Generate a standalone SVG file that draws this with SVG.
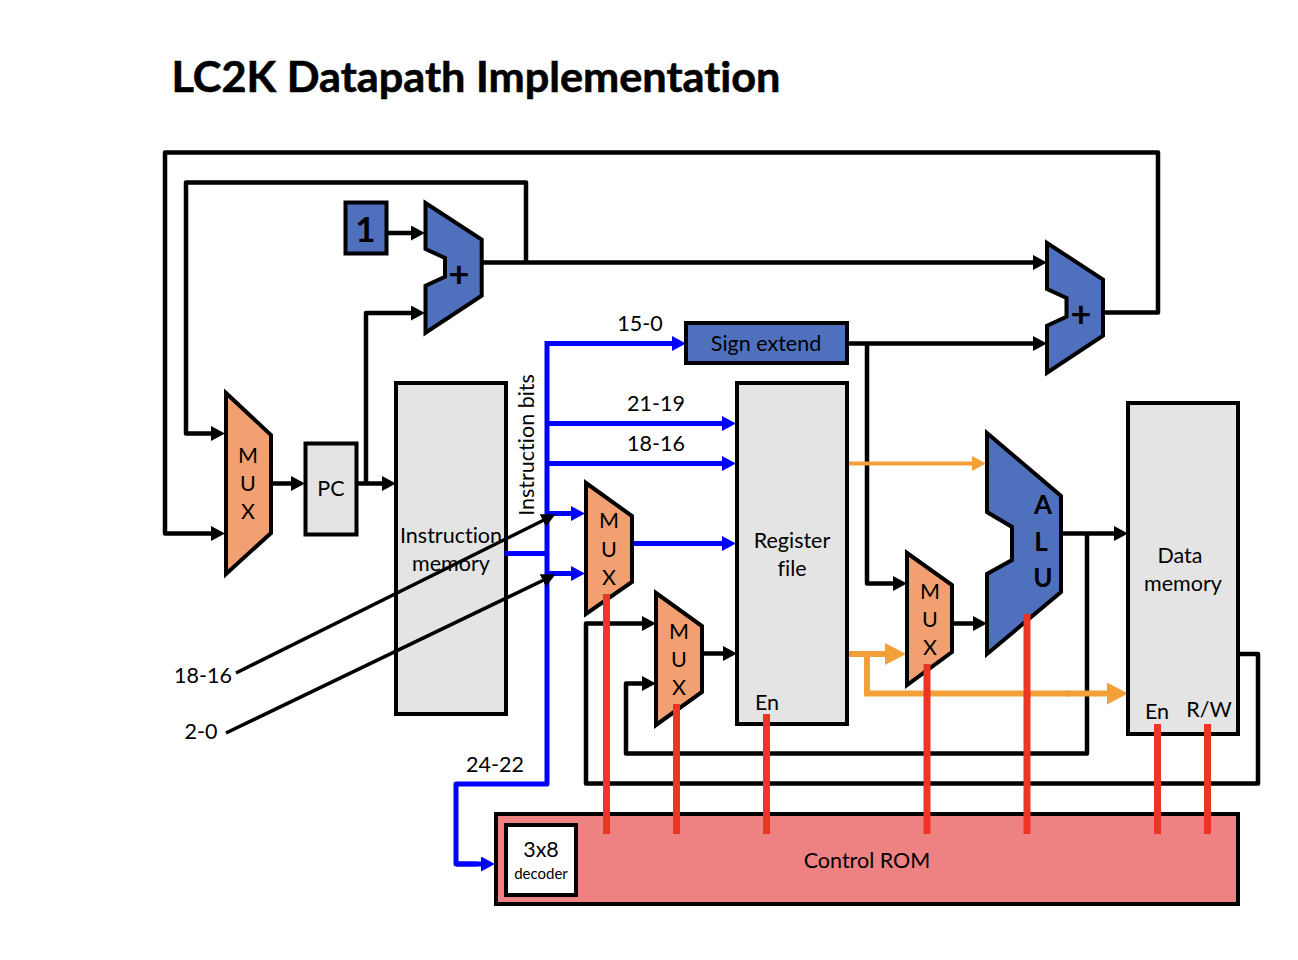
<svg xmlns="http://www.w3.org/2000/svg" width="1298" height="960" viewBox="0 0 1298 960">
<style>
text{font-family:Lato,"Open Sans","Liberation Sans",sans-serif;fill:#000;text-anchor:middle;font-size:21.500px;font-variant-ligatures:none}
.b{font-weight:700}
.gray{fill:#e4e4e4;stroke:#000;stroke-width:4}
.blue{fill:#4f71bd;stroke:#000;stroke-width:4;stroke-linejoin:miter}
.or{fill:#f2a071;stroke:#000;stroke-width:4}
.ka{fill:none;stroke:#000;stroke-width:4.500;stroke-linejoin:round;marker-end:url(#ak)}
.kd{fill:none;stroke:#000;stroke-width:3.500;marker-end:url(#akd)}
.bl{fill:none;stroke:#0000ff;stroke-width:5;stroke-linejoin:round;marker-end:url(#ab)}
.bn{fill:none;stroke:#0000ff;stroke-width:5;stroke-linejoin:round;stroke-linecap:square}
.o1{fill:none;stroke:#f2a037;stroke-width:4;marker-end:url(#ao1)}
.o2{fill:none;stroke:#f2a037;stroke-width:6;marker-end:url(#ao2)}
.o3{fill:none;stroke:#f2a037;stroke-width:6}
.r{fill:none;stroke:#ee3424;stroke-width:7}
</style>
<defs>
<marker id="ak" markerUnits="userSpaceOnUse" markerWidth="16" markerHeight="16" refX="8" refY="7.500" orient="auto"><path d="M0 0L14 7.500L0 15Z" fill="#000"/></marker>
<marker id="akd" markerUnits="userSpaceOnUse" markerWidth="16" markerHeight="16" refX="8" refY="7" orient="auto"><path d="M0 0L14 7L0 14Z" fill="#000"/></marker>
<marker id="ab" markerUnits="userSpaceOnUse" markerWidth="16" markerHeight="16" refX="8" refY="7.500" orient="auto"><path d="M0 0L14 7.500L0 15Z" fill="#0000ff"/></marker>
<marker id="ao1" markerUnits="userSpaceOnUse" markerWidth="16" markerHeight="16" refX="8" refY="7.500" orient="auto"><path d="M0 0L14 7.500L0 15Z" fill="#f2a037"/></marker>
<marker id="ao2" markerUnits="userSpaceOnUse" markerWidth="24" markerHeight="24" refX="14" refY="11" orient="auto"><path d="M0 0L21 11L0 22Z" fill="#f2a037"/></marker>
</defs>
<text x="476" y="92" class="b" style="font-size:42px;stroke:#000;stroke-width:.6" textLength="609" lengthAdjust="spacingAndGlyphs">LC2K Datapath Implementation</text>
<g id="connectors-under">
<path class="ka" d="M1104 312.500H1158V152.500H165V533.500H219"/>
<path class="ka" d="M526 262.500V182.500H186V433.500H219"/>
<path class="ka" d="M386 233H419"/>
<path class="ka" d="M366 483.500V313H419"/>
<path class="ka" d="M271 483.500H299"/>
<path class="ka" d="M356 483.500H390"/>
<path class="ka" d="M482 262.500H1041"/>
<path class="ka" d="M847 343.500H1041"/>
<path class="ka" d="M867 343.500V583.500H901"/>
<path class="ka" d="M947 623.500H981"/>
<path class="ka" d="M1058 533.500H1122"/>
<path class="ka" d="M1087 533.500V753.500H626V683.500H650"/>
<path class="ka" d="M1238 654H1258V783.500H586V623.500H650"/>
<path class="ka" d="M702 653.500H731"/>
<path class="bn" d="M547 343.500V784H456V864H475"/>
<path class="bl" d="M456 864H489"/>
<path class="bl" d="M547 343.500H680"/>
<path class="bl" d="M547 423.500H730"/>
<path class="bl" d="M547 463.500H730"/>
<path class="bl" d="M547 513.500H579"/>
<path class="bl" d="M547 573.500H579"/>
<path class="bl" d="M632 543.500H730"/>
<path class="o1" d="M847 463.500H980"/>
<path class="o2" d="M847 654H899"/>
<path class="o3" d="M867 654V693.500H1070"/>
<path class="o2" d="M1067 693.500H1121"/>
</g>
<g id="box-1"><rect class="blue" x="345.500" y="202.500" width="41" height="51"/><text x="365.500" y="242" class="b" style="font-size:35px">1</text></g>
<g id="adder-1"><path class="blue" d="M425.500 203L481.700 239.500V295.700L425.500 332.700V285.700L445 276.700V258L425.500 249Z"/><text x="459" y="287" class="b" style="font-size:36px">+</text></g>
<g id="adder-2"><path class="blue" d="M1047 243L1103 279.500V335.700L1047 372.700V325.700L1066.500 316.700V298L1047 289Z"/><text x="1081" y="327" class="b" style="font-size:36px">+</text></g>
<g id="mux-pc"><path class="or" d="M226 393L271 435V533L226 574Z"/><text x="248" y="463">M</text><text x="248" y="491">U</text><text x="248" y="519">X</text></g>
<g id="pc"><rect class="gray" x="305.500" y="443.500" width="51" height="91"/><text x="331" y="496">PC</text></g>
<g id="instruction-memory"><rect class="gray" x="396" y="383" width="110" height="331"/><text x="451" y="543">Instruction</text><text x="451" y="571">memory</text></g>
<g id="sign-extend"><rect class="blue" x="686" y="323" width="161" height="40"/><text x="766" y="351">Sign extend</text></g>
<g id="register-file"><rect class="gray" x="737" y="383" width="110" height="341"/><text x="792" y="548">Register</text><text x="792" y="576">file</text><text x="767" y="710">En</text></g>
<g id="data-memory"><rect class="gray" x="1128" y="403" width="110" height="331"/><text x="1180" y="563">Data</text><text x="1183" y="591">memory</text><text x="1157" y="719">En</text><text x="1209" y="717">R/W</text></g>
<g id="mux-rs"><path class="or" d="M586 483L632 516V582L586 614Z"/><text x="609" y="528">M</text><text x="609" y="557">U</text><text x="609" y="585">X</text></g>
<g id="mux-dest"><path class="or" d="M656 593L702 626V692L656 725Z"/><text x="679" y="639">M</text><text x="679" y="667">U</text><text x="679" y="695">X</text></g>
<g id="mux-alu"><path class="or" d="M907 553L952 585V652L907 685Z"/><text x="930" y="599">M</text><text x="930" y="627">U</text><text x="930" y="655">X</text></g>
<g id="alu"><path class="blue" d="M987 433L1061 496V592L987 654V574L1012 560V527L987 512Z"/><text x="1043" y="514" class="b" style="font-size:26px">A</text><text x="1041" y="551" class="b" style="font-size:26px">L</text><text x="1043" y="587" class="b" style="font-size:26px">U</text></g>
<g id="control-rom"><rect x="496" y="814" width="742" height="90" fill="#ee8282" stroke="#000" stroke-width="4"/><text x="867" y="868">Control ROM</text></g>
<g id="connectors-over">
<path class="r" d="M606.500 594V834M676.500 704V834M766.500 714V834M927 664V834M1027 614V834M1157.500 724V834M1207.500 724V834"/>
<path class="bn" d="M507 553.500H545"/>
<path class="kd" d="M236 673L550 517"/>
<path class="kd" d="M226 733L550 577"/>
</g>
<g id="decoder"><rect x="506" y="825" width="70" height="70" fill="#fff" stroke="#000" stroke-width="4"/><text x="541" y="857">3x8</text><text x="541" y="879" style="font-size:15px">decoder</text></g>
<g id="labels">
<text x="640" y="331">15-0</text><text x="656" y="411">21-19</text><text x="656" y="451">18-16</text>
<text x="495" y="772">24-22</text><text x="203" y="683">18-16</text><text x="201" y="739">2-0</text>
<text transform="translate(534 445) rotate(-90)">Instruction bits</text>
</g>
</svg>
